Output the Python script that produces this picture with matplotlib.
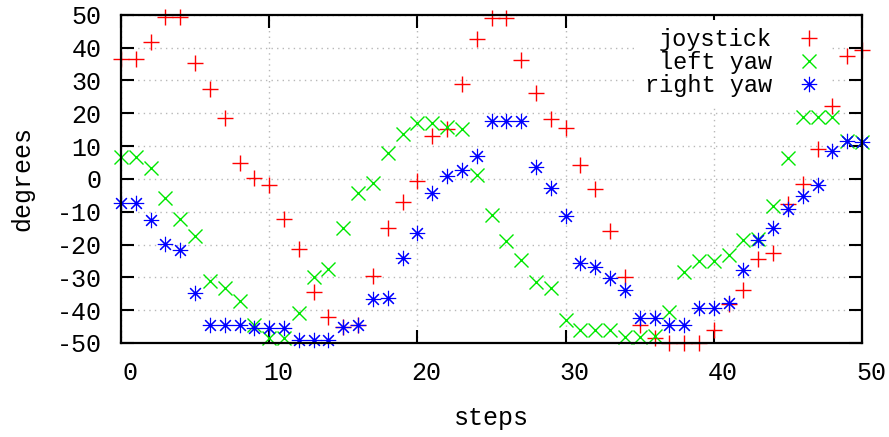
import matplotlib
matplotlib.use("Agg")
import matplotlib.pyplot as plt
from matplotlib.transforms import ScaledTranslation

# ── Data ─────────────────────────────────────────────────────────────────
steps = list(range(51))

joystick = [36.6, 36.6, 41.7, 49.3, 49.3, 35.3, 27.3, 18.6, 4.7, 0.4,
            -1.9, -12.3, -21.4, -34.6, -42.0, -45.0, -44.5, -29.5, -15.1, -7.2,
            -0.6, 13.0, 15.1, 29.0, 42.7, 49.0, 49.0, 36.3, 26.3, 18.2,
            15.6, 4.2, -3.2, -16.0, -29.8, -44.5, -48.6, -50.0, -50.0, -50.0,
            -46.1, -38.0, -33.9, -24.3, -22.6, -7.8, -1.6, 9.0, 22.2, 37.3,
            39.1]

left_yaw = [6.7, 6.7, 3.2, -5.8, -12.1, -17.3, -31.1, -33.1, -37.2, -44.5,
            -48.5, -48.5, -40.8, -30.0, -27.4, -15.0, -4.3, -1.4, 8.0, 13.8,
            16.9, 16.9, 15.8, 15.3, 1.3, -11.1, -19.0, -24.7, -31.5, -33.1,
            -43.0, -46.1, -46.1, -46.1, -48.1, -48.1, -47.8, -40.5, -28.5, -25.1,
            -25.1, -23.1, -18.7, -18.4, -8.2, 6.4, 18.7, 18.7, 18.7, 11.5,
            11.3]

right_yaw = [-7.4, -7.4, -12.5, -19.8, -21.6, -34.8, -44.4, -44.4, -44.4, -45.4,
             -45.5, -45.5, -49.2, -49.2, -49.2, -45.2, -44.5, -36.6, -36.2, -24.0,
             -16.6, -4.3, 0.8, 2.6, 7.0, 17.6, 17.6, 17.6, 3.5, -2.9,
             -11.4, -25.5, -27.0, -30.3, -33.9, -42.3, -42.3, -44.5, -44.5, -39.3,
             -39.3, -37.9, -27.7, -18.7, -15.0, -9.2, -5.2, -1.9, 8.5, 11.4,
             11.3]

x_ticks = [0, 10, 20, 30, 40, 50]
y_ticks = [-50, -40, -30, -20, -10, 0, 10, 20, 30, 40, 50]

# ── Style ────────────────────────────────────────────────────────────────
plt.rcParams["font.family"] = ["Liberation Mono", "DejaVu Sans Mono"]
plt.rcParams["font.size"] = 18
plt.rcParams["axes.unicode_minus"] = False

RED = "#ff0000"
GREEN = "#00e800"
BLUE = "#0000ff"

fig = plt.figure(figsize=(8.89, 4.37), dpi=100)
ax = fig.add_axes([121 / 889, 1 - 343 / 437, 741 / 889, 328.3 / 437])

ax.plot(steps, joystick, ls="none", marker="+", ms=11, mew=1.0, color=RED,
        label="joystick", clip_on=False, zorder=3)
ax.plot(steps, left_yaw, ls="none", marker="x", ms=10, mew=1.0, color=GREEN,
        label="left yaw", clip_on=False, zorder=3)
ax.plot(steps, right_yaw, ls="none", marker=(8, 2, 0), ms=11, mew=0.8, color=BLUE,
        label="right yaw", clip_on=False, zorder=3)

ax.set_xlim(0, 50)
ax.set_ylim(-50, 50)
ax.set_xticks(x_ticks)
ax.set_yticks(y_ticks)
ax.grid(True, color="#b8b8b8", linestyle=(0, (1, 3)), linewidth=1.0, zorder=0)
ax.set_axisbelow(True)

for s in ax.spines.values():
    s.set_linewidth(1.6)
    s.set_color("black")
    s.set_zorder(4)

ax.tick_params(direction="in", length=9.5, width=1.5, top=True, right=True,
               colors="black", labelsize=18)
ax.tick_params(axis="y", pad=14)
ax.tick_params(axis="x", pad=13)

# gnuplot draws the x labels a little right of the tics
shift = ScaledTranslation(9 / 100, 0, fig.dpi_scale_trans)
for t in ax.xaxis.get_major_ticks():
    t.label1.set_transform(t.label1.get_transform() + shift)

ax.set_xlabel("steps", fontsize=18, labelpad=15)
ax.set_ylabel("degrees", fontsize=18, labelpad=16)

leg = ax.legend(loc="upper right", bbox_to_anchor=(0.955, 0.984), borderaxespad=0,
                markerfirst=False, frameon=True, fancybox=False, framealpha=1,
                edgecolor="none", facecolor="white", handlelength=1.0,
                handletextpad=1.05, labelspacing=0.0, borderpad=0.35, fontsize=17)
leg.set_zorder(2.5)

fig.savefig("out.png", dpi=100, facecolor="white")
